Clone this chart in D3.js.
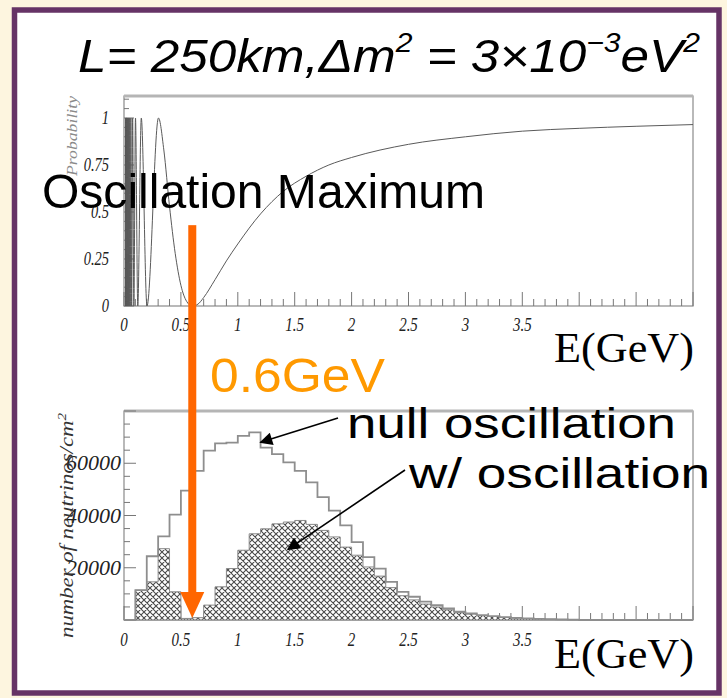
<!DOCTYPE html>
<html>
<head>
<meta charset="utf-8">
<script src="https://cdn.jsdelivr.net/npm/d3@7"></script>
<style>
  html, body { margin: 0; padding: 0; background: #fdf5df; }
  svg { display: block; }
</style>
</head>
<body>
<svg id="chart" width="727" height="698"></svg>
<script>
// ---- survival probability P(E), L = 250 km, dm2 = 3e-3 eV^2 ----
const probE = [0.0152, 0.0155, 0.0160, 0.0164, 0.0168, 0.0173, 0.0178, 0.0184, 0.0190, 0.0196,
               0.0202, 0.0209, 0.0217, 0.0225, 0.0233, 0.0243, 0.0253, 0.0264, 0.0276, 0.0289,
               0.0303, 0.0319, 0.0337, 0.0357, 0.0379, 0.0404, 0.0433, 0.0466, 0.0505, 0.0551,
               0.0606, 0.0674, 0.0758, 0.0866, 0.101, 0.121, 0.152, 0.202, 0.303,
               0.35, 0.40, 0.45, 0.50, 0.55, 0.60, 0.65, 0.70, 0.80, 0.90, 1.0, 1.2, 1.4, 1.6,
               1.8, 2.0, 2.5, 3.0, 3.5, 4.0, 4.5, 5.0];
const probP = [1, 0, 1, 0, 1, 0, 1, 0, 1, 0,
               1, 0, 1, 0, 1, 0, 1, 0, 1, 0,
               1, 0, 1, 0, 1, 0, 1, 0, 1, 0,
               1, 0, 1, 0, 1, 0, 1, 0, 1,
               0.83, 0.53, 0.28, 0.11, 0.025, 0, 0.01, 0.045, 0.14, 0.24, 0.33, 0.49, 0.61, 0.69,
               0.75, 0.79, 0.86, 0.90, 0.93, 0.945, 0.956, 0.965];

// ---- neutrino spectrum, 0.1 GeV bins from 0 to 5 GeV ----
const binWidth = 0.1;
const nullCounts = [0, 11400, 24400, 32000, 40300, 49500, 57100, 64800, 67600, 67900,
                    70500, 71800, 66000, 63500, 60300, 57100, 52700, 47000, 41900, 36200,
                    29800, 24100, 19700, 14600, 10800, 8900, 7000, 5700, 4400, 3200,
                    2500, 1900, 1500, 1100, 800, 600, 450, 320, 220, 150,
                    0, 0, 0, 0, 0, 0, 0, 0, 0, 0];
const oscCounts  = [0, 11400, 14600, 27300, 10800, 600, 900, 5700, 12700, 19700,
                    26700, 33000, 34900, 36800, 37500, 38100, 36600, 34300, 31800, 27900,
                    24800, 20300, 16800, 12400, 9300, 7700, 6100, 5000, 3900, 2900,
                    2250, 1700, 1350, 1000, 720, 540, 400, 290, 200, 130,
                    0, 0, 0, 0, 0, 0, 0, 0, 0, 0];

// ---- axis tick labels ----
const energyTicks = [0, 0.5, 1, 1.5, 2, 2.5, 3, 3.5];
const energyTickText = ["0", "0.5", "1", "1.5", "2", "2.5", "3", "3.5"];
const probTicks = [0, 0.25, 0.5, 0.75, 1];
const probTickText = ["0", "0.25", "0.5", "0.75", "1"];
const countTicks = [20000, 40000, 60000];
const countTickText = ["20000", "40000", "60000"];

// ---- annotations ----
const maxEnergy = 0.6;          // oscillation maximum, GeV
const nullArrowTip = [1.2, 68000];
const oscArrowTip = [1.44, 27000];

const svg = d3.select("#chart");

const x  = d3.scaleLinear().domain([0, 5]).range([124, 693]);
const yP = d3.scaleLinear().domain([0, 1.117]).range([306, 96]);
const yH = d3.scaleLinear().domain([0, 80000]).range([620, 411]);

// page background and purple frame
svg.append("rect").attr("width", 727).attr("height", 698).attr("fill", "#fdf5df");
svg.append("rect").attr("x", 14.5).attr("y", 10).attr("width", 704.5).attr("height", 683)
   .attr("fill", "#ffffff").attr("stroke", "#663366").attr("stroke-width", 5.5);

// crosshatch used for the oscillated spectrum
const defs = svg.append("defs");
const pat = defs.append("pattern").attr("id", "xhatch")
  .attr("patternUnits", "userSpaceOnUse").attr("width", 6).attr("height", 6);
pat.append("rect").attr("width", 6).attr("height", 6).attr("fill", "#ffffff");
pat.append("path")
  .attr("d", "M-1,1 L1,-1 M0,6 L6,0 M5,7 L7,5 M0,0 L6,6 M-1,5 L1,7 M5,-1 L7,1")
  .attr("stroke", "#4a4a4a").attr("stroke-width", 1.1);
defs.append("marker").attr("id", "blackHead").attr("viewBox", "0 0 10 10")
  .attr("refX", 9).attr("refY", 5).attr("markerWidth", 20).attr("markerHeight", 13)
  .attr("markerUnits", "userSpaceOnUse").attr("orient", "auto")
  .append("path").attr("d", "M0,0 L10,5 L0,10 Z").attr("fill", "#000");

const serif = "'Liberation Serif', 'Times New Roman', serif";
const sans = "'Liberation Sans', Arial, sans-serif";

// italic serif axis label, stretched vertically like the plotting package output
function rootLabel(g, px, py, txt, size, anchor, sx, sy) {
  return g.append("text")
    .attr("transform", `translate(${px},${py}) scale(${sx},${sy})`)
    .attr("text-anchor", anchor)
    .attr("font-family", serif).attr("font-style", "italic")
    .attr("font-size", size).attr("fill", "#222")
    .text(txt);
}

function drawFrame(g, yScale) {
  const [y0, y1] = yScale.range();
  g.append("rect").attr("x", x(0)).attr("y", y1)
    .attr("width", x(5) - x(0)).attr("height", y0 - y1)
    .attr("fill", "none").attr("stroke", "#8a8a8a").attr("stroke-width", 1.2);
  g.append("line").attr("x1", x(0)).attr("x2", x(5)).attr("y1", y1).attr("y2", y1)
    .attr("stroke", "#b5b5b5").attr("stroke-width", 3);
  // energy ticks
  x.ticks(50).forEach(v => {
    const major = Math.abs(v * 2 - Math.round(v * 2)) < 1e-6;
    g.append("line").attr("x1", x(v)).attr("x2", x(v))
      .attr("y1", y0).attr("y2", y0 - (major ? 14 : 7))
      .attr("stroke", "#777").attr("stroke-width", 1);
  });
}

// ================= upper panel: probability =================
const probG = svg.append("g");
drawFrame(probG, yP);
yP.ticks(22).forEach(v => {
  const major = Math.abs(v * 4 - Math.round(v * 4)) < 1e-6;
  probG.append("line").attr("x1", x(0)).attr("x2", x(0) + (major ? 10 : 5))
    .attr("y1", yP(v)).attr("y2", yP(v)).attr("stroke", "#777").attr("stroke-width", 1);
});

const probLine = d3.line()
  .x((d, i) => x(probE[i]))
  .y(d => yP(d))
  .curve(d3.curveMonotoneX);
probG.append("path").datum(probP).attr("d", probLine)
  .attr("fill", "none").attr("stroke", "#5a5a5a").attr("stroke-width", 1);

probTicks.forEach((v, i) => rootLabel(probG, 109, yP(v) + 6, probTickText[i], 14.5, "end", 1, 1.28));
energyTicks.forEach((v, i) => rootLabel(probG, x(v), 331, energyTickText[i], 15, "middle", 1, 1.3));

probG.append("text")
  .attr("transform", `translate(77,96) rotate(-90)`)
  .attr("text-anchor", "end")
  .attr("font-family", serif).attr("font-style", "italic")
  .attr("font-size", 14.5).attr("fill", "#8a8a8a")
  .attr("textLength", 80).attr("lengthAdjust", "spacingAndGlyphs")
  .text("Probability");

// ================= lower panel: spectra =================
const specG = svg.append("g");
drawFrame(specG, yH);
yH.ticks(16).forEach(v => {
  const major = v % 20000 === 0;
  specG.append("line").attr("x1", x(0)).attr("x2", x(0) + (major ? 12 : 6))
    .attr("y1", yH(v)).attr("y2", yH(v)).attr("stroke", "#777").attr("stroke-width", 1);
});

const binStarts = oscCounts.map((d, i) => i * binWidth);
const stepPts = c => c.map((v, i) => [binStarts[i], v]).concat([[5, 0]]);

const oscArea = d3.area()
  .x(d => x(d[0])).y0(yH(0)).y1(d => yH(d[1]))
  .curve(d3.curveStepAfter);
specG.append("path").datum(stepPts(oscCounts)).attr("d", oscArea)
  .attr("fill", "url(#xhatch)").attr("stroke", "#8a8a8a").attr("stroke-width", 1);

const nullLine = d3.line()
  .x(d => x(d[0])).y(d => yH(d[1]))
  .curve(d3.curveStepAfter);
specG.append("path").datum(stepPts(nullCounts)).attr("d", nullLine)
  .attr("fill", "none").attr("stroke", "#8e8e8e").attr("stroke-width", 1.8);

countTicks.forEach((v, i) => {
  specG.append("text")
    .attr("transform", `translate(121,${yH(v) + 7})`)
    .attr("text-anchor", "end")
    .attr("font-family", serif).attr("font-style", "italic")
    .attr("font-size", 22).attr("fill", "#222")
    .text(countTickText[i]);
});
energyTicks.forEach((v, i) => rootLabel(specG, x(v), 646, energyTickText[i], 15, "middle", 1, 1.3));

const yTitle = specG.append("text")
  .attr("transform", `translate(73,413) rotate(-90)`)
  .attr("text-anchor", "end")
  .attr("font-family", serif).attr("font-style", "italic")
  .attr("font-size", 18).attr("fill", "#333")
  .attr("textLength", 225).attr("lengthAdjust", "spacingAndGlyphs");
yTitle.append("tspan").text("number of neutrinos/cm");
yTitle.append("tspan").attr("dy", -7).attr("font-size", 12).text("2");

// ================= overlay annotations =================
// energy axis titles
[362, 668].forEach(by => {
  svg.append("text").attr("x", 554).attr("y", by)
    .attr("font-family", serif).attr("font-size", 42).attr("fill", "#000")
    .attr("textLength", 140).attr("lengthAdjust", "spacingAndGlyphs")
    .text("E(GeV)");
});

// title formula
const title = svg.append("text").attr("x", 78).attr("y", 72)
  .attr("font-family", sans).attr("font-style", "italic")
  .attr("font-size", 46).attr("fill", "#000")
  .attr("textLength", 622).attr("lengthAdjust", "spacingAndGlyphs");
title.append("tspan").text("L= 250km,\u0394m");
title.append("tspan").attr("dy", -20).attr("font-size", 27).text("2");
title.append("tspan").attr("dy", 20).text(" = 3\u00d710");
title.append("tspan").attr("dy", -20).attr("font-size", 27).text("\u22123");
title.append("tspan").attr("dy", 20).text("eV");
title.append("tspan").attr("dy", -20).attr("font-size", 27).text("2");

// oscillation-maximum arrow
const ax = x(maxEnergy);
const shaftTop = yP(0.43), tipY = yH(0) - 2;
svg.append("rect").attr("x", ax - 4).attr("y", shaftTop).attr("width", 8)
  .attr("height", tipY - 24 - shaftTop).attr("fill", "#ff6600");
svg.append("path")
  .attr("d", `M${ax - 12},${tipY - 26} L${ax + 12},${tipY - 26} L${ax},${tipY} Z`)
  .attr("fill", "#ff6600");

svg.append("text").attr("x", 42).attr("y", 208)
  .attr("font-family", sans).attr("font-size", 48).attr("fill", "#000")
  .attr("textLength", 443).attr("lengthAdjust", "spacingAndGlyphs")
  .text("Oscillation Maximum");

svg.append("text").attr("x", 210).attr("y", 392)
  .attr("font-family", sans).attr("font-size", 48).attr("fill", "#ff9900")
  .attr("textLength", 175).attr("lengthAdjust", "spacingAndGlyphs")
  .text("0.6GeV");

svg.append("text").attr("x", 347).attr("y", 438)
  .attr("font-family", sans).attr("font-size", 42).attr("fill", "#000")
  .attr("textLength", 329).attr("lengthAdjust", "spacingAndGlyphs")
  .text("null oscillation");
svg.append("text").attr("x", 409).attr("y", 488)
  .attr("font-family", sans).attr("font-size", 42).attr("fill", "#000")
  .attr("textLength", 301).attr("lengthAdjust", "spacingAndGlyphs")
  .text("w/ oscillation");

svg.append("line").attr("x1", 338).attr("y1", 418)
  .attr("x2", x(nullArrowTip[0])).attr("y2", yH(nullArrowTip[1]))
  .attr("stroke", "#000").attr("stroke-width", 1.6).attr("marker-end", "url(#blackHead)");
svg.append("line").attr("x1", 405).attr("y1", 470)
  .attr("x2", x(oscArrowTip[0])).attr("y2", yH(oscArrowTip[1]))
  .attr("stroke", "#000").attr("stroke-width", 1.6).attr("marker-end", "url(#blackHead)");
</script>
</body>
</html>
